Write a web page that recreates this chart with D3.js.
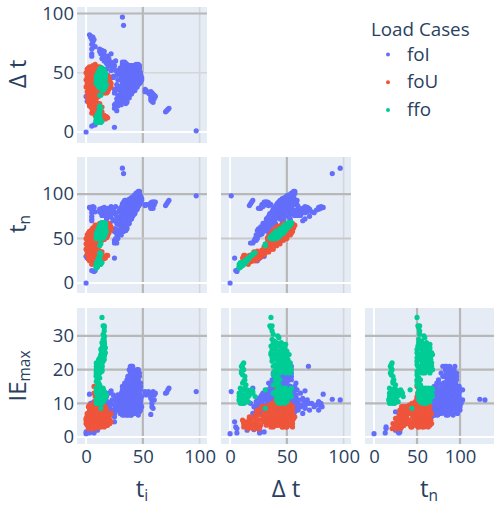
<!DOCTYPE html>
<html><head><meta charset="utf-8">
<script src="https://cdn.jsdelivr.net/npm/d3@7"></script>
<style>
html,body{margin:0;padding:0;background:#fff}
text{font-family:"Open Sans",sans-serif;fill:#2a3f5f}
</style></head><body>
<svg id="c" width="494" height="506"></svg>
<script>
// columns of each row: t_i, delta t, t_n, IE_max
const seriesNames = ["foI","foU","ffo"];
const seriesColors = ["#636EFA","#EF553B","#00CC96"];
const xTicks = [[0,50,100],[0,50,100],[0,50,100]];
const yTicks = [[0,50,100],[0,50,100],[0,10,20,30]];
const foI = [
[97,1,98,13.5],[0,0,0,1],[32,97,129,11],[33,90,123,11.2],
[3,82,85,12.7],[4,81,85,9],[5,78,83,8],[5,74,79,9],[5,70,75,10],[5,66,72,8.5],[5,64,70,7],[6,80,86,9],
[12,70,83,8],[14,69,84,21],[15,66,81,9],[14,62,76,9],[16,68,85,10],[17,64,82,11],[19,64,84,9.5],[16,60,76,8],[20,60,82,10],[22,66,86,13.7],[22,59,82,10],[26,60,86,11],[18,53,72,7],[22,52,74,8],[25,56,80,9.5],[26,52,78,9.5],[21,46,67,7],[19,48,67,6],[18,45,63,6],[24,47,71,8],[27,48,75,11],[28,44,72,10.5],[29,52,81,11],[27,40,67,9],[28,38,66,8],[25,36,61,7],[25,33,58,6],[24,46,70,7.5],
[18,58,76,12],[20,62,82,13],[15,64,79,11.5],[12,68,80,11],[8,72,80,10],[6,76,82,9.5],[7,78,85,10.5],[4,80,84,10],[24,58,82,12.5],[17,61,78,9],[21,56,77,9],[23,55,78,11],[19,57,76,10.5],[13,66,79,10],
[0,30,30,1.5],[1,26,28,1.5],[3,26,29,1.2],[7,6,13,1.2],[8,6,14,2.5],[25,4,28,4.5],[6,19,25,3],[8,21,29,2.2],[10,15,25,2],[5,5,14,3],[6,24,25,7.5],
[25,23,48,8],[25,20,45,7],[26,21,47,9],[28,22,50,9],[28,26,54,8],[30,25,55,8.5],[33,28,61,8],[35,24,59,9],[36,25,61,9.5],[29,29,58,9.5],[30,35,65,9],[28,31,59,8],[33,25,58,8],[36,27,63,10],[26,35,61,8.5],
[34,30,64,13],[32,29,61,12],[30,30,60,11.5],[31,32,63,12.5],[33,33,66,11],[29,27,56,10.5],[27,28,55,10],[35,31,66,9],[37,30,67,11],[38,29,67,8],
[26,24,50,11.5],[28,28,56,12.5],[30,27,57,12],[31,23,54,10.5],[27,18,45,10],
[52,36,88,13],[53,35,88,12.5],[55,33,88,13.5],[56,32,88,13],[52,34,87,13.5],[57,34,90,12],[58,33,91,11],[59,32,91,13.5],[60,31,91,12.5],[60,28,88,11],[59,29,88,13],[58,27,85,10],[58,26,84,9],[57,27,84,6.7],[59,25,84,8.5],[61,30,91,13],[57,29,86,11.5],[70,17,87,13],[71,18,89,13.2],[73,20,93,14.5],[72,19,91,14],
[30,36,66,7],[30,44,74,9],[30,50,80,12],[30,54,84,10],[31,39,70,10],[31,47,78,13],[31,54,85,8],[32,34,66,7],[32,41,73,11],[32,46,78,14],[32,52,84,6.5],[32,59,88,9],[33,37,70,8],[33,42,75,12],[33,49,82,15],[33,53,86,9],
[34,34,68,6.5],[34,38,72,10],[34,43,77,14],[34,47,81,16],[34,52,86,12],[34,56,90,7],[35,36,71,13],[35,40,75,8],[35,45,80,11],[35,50,85,15],[35,53,88,10],[36,35,71,6.5],[36,39,75,16],[36,43,79,9],[36,47,83,13],[36,51,87,17],
[37,34,71,12],[37,38,75,7],[37,42,79,15],[37,46,83,18],[37,50,87,11],[38,32,70,9],[38,37,75,17],[38,41,79,12],[38,45,83,20],[38,48,86,7],[38,51,89,15],[39,33,72,14],[39,37,76,8],[39,41,80,18],[39,45,84,10],[39,49,88,21],[39,52,91,13],
[40,32,72,7],[40,35,75,11],[40,38,78,19],[40,42,82,15],[40,46,86,6.5],[40,49,89,18],[40,52,92,12],[41,34,75,16],[41,38,79,9],[41,42,83,21],[41,46,87,12],[41,50,91,16],[41,53,94,8],[42,35,77,13],[42,39,81,18],[42,43,85,8],[42,47,89,20],[42,51,93,14],
[43,35,78,7],[43,39,82,11],[43,43,86,17],[43,47,90,14],[43,51,94,9],[43,54,97,12],[44,38,82,15],[44,42,86,9],[44,46,90,18],[44,50,94,13],[44,53,97,7],[45,38,83,8],[45,42,87,19],[45,46,91,11],[45,50,95,16],[45,53,98,10],[45,56,101,14],
[46,40,86,13],[46,44,90,20],[46,48,94,9],[46,52,98,13],[46,57,103,11],[46,54,100,8],[47,41,88,16],[47,45,92,11],[47,49,96,7.5],[47,52,99,12],[47,56,103,14],[48,42,90,14],[48,46,94,10],
[32,36,68,9],[32,44,76,13],[32,49,81,10],[33,35,68,12],[33,45,78,8],[33,51,84,13],[34,36,70,15],[34,41,75,7.5],[34,45,79,11],[34,50,84,8.5],[35,34,69,10],[35,38,73,16],[35,43,78,14],[35,48,83,7],[36,37,73,12],[36,41,77,8],[36,45,81,16],[36,49,85,10],[36,53,89,14],
[37,36,73,15],[37,40,77,10],[37,44,81,12.5],[37,48,85,16],[37,52,89,8],[38,35,73,11],[38,39,77,7.5],[38,43,81,15],[38,47,85,17],[38,50,88,11],[39,35,74,6.5],[39,39,78,13],[39,43,82,16],[39,47,86,19],[39,51,90,9],
[40,34,74,14],[40,37,77,9],[40,40,80,21],[40,44,84,12],[40,48,88,20],[40,51,91,7.5],[41,36,77,12],[41,40,81,18],[41,44,85,7],[41,48,89,19],[41,51,92,10],[42,37,79,10],[42,41,83,16],[42,45,87,12],[42,49,91,17],[42,53,95,9],
[43,37,80,14],[43,41,84,19],[43,45,88,10],[43,49,92,18],[43,53,96,15],[44,40,84,12],[44,44,88,16],[44,48,92,8],[44,52,96,17],[44,55,99,11],[45,40,85,14],[45,44,89,7.5],[45,48,93,20],[45,52,97,13],[45,55,100,9],
[46,42,88,17],[46,46,92,14],[46,50,96,18],[46,53,99,15],[47,43,90,18],[47,47,94,15],[47,51,98,9],[47,54,101,10],[46,46,92,6.5],
[38,33,71,13],[36,33,69,8],[34,32,66,9],[37,32,69,6.5],[40,33,73,10],
[32,55,87,12],[32,57,89,15],[33,58,91,8],[33,55,88,11],[34,59,93,14],[35,56,91,9],[35,58,93,16],[36,55,91,12],[36,57,93,7.5],[37,54,91,18],[37,56,93,10],[38,54,92,13],[38,56,94,8.5],[39,54,93,17],[39,56,95,11],[40,54,94,21],[40,56,96,14],[41,55,96,9],[42,54,96,19],[42,56,98,11],[43,56,99,13],[44,57,101,10],[48,50,98,15],[49,46,95,12],[49,44,93,9],[48,44,92,16],[48,48,96,8],
[47,44,91,13],[47,47,94,19],[48,43,91,11],[46,41,87,8],[45,43,88,12],[44,39,83,11],[45,41,86,17],[43,38,81,9],[42,37,79,15],[41,36,77,7.5],[39,34,73,11],[34,35,69,12],[33,39,72,14],[33,40,73,7]
];
const foU = [
[0,38,38,5.5],[0,44,44,4],[0,50,50,5],[1,34,35,6.5],[1,41,42,3.5],[1,47,48,6],[1,53,54,4.5],[1,30,32,7],[2,36,38,4],[2,43,45,7],[2,49,51,3],[2,54,56,6],[2,27,29,5],
[3,32,35,3.5],[3,38,41,8],[3,45,48,5],[3,51,54,7.5],[3,24,27,3],[3,55,58,3],[4,29,33,6],[4,35,39,5],[4,41,45,9],[4,47,51,3.5],[4,53,57,8],[4,22,26,4],[5,26,31,2.5],[5,33,38,8],[5,38,43,3],[5,44,49,7],[5,50,55,9],[5,55,60,4],[5,20,25,3],
[6,28,34,9],[6,34,40,4],[6,40,46,6.5],[6,46,52,3],[6,52,58,8.5],[6,56,62,5.5],[6,18,24,3.5],[7,30,37,6],[7,41,50,15],[7,37,44,10],[7,44,51,13],[7,48,55,4.5],[7,54,61,7],[7,23,30,5],[8,26,34,8],[8,42,50,12],[8,36,44,3],[8,40,48,10.5],[8,47,55,9.5],[8,52,60,3.5],[8,57,65,6],[8,20,28,2.5],[8,14,22,4],
[9,33,42,7],[9,38,47,4],[9,44,53,8],[9,50,59,10],[9,55,64,5],[9,25,34,5],[9,17,26,4],[10,40,50,11],[10,36,46,6],[10,46,56,3],[10,52,62,7.5],[10,24,34,3.5],[10,15,25,3],[11,34,45,9.5],[11,41,52,5],[11,48,59,9],[11,54,65,3.5],[11,18,29,5],[12,36,48,3.5],[12,43,55,7],[12,49,61,4.5],[12,52,64,10],[12,20,32,3],
[13,34,47,8],[13,40,53,4],[13,46,59,8.5],[13,50,63,3],[14,37,51,6],[14,43,57,9],[14,48,62,5],[14,21,35,4],[15,36,51,7],[15,41,56,3.5],[15,46,61,8],[15,12,27,4.5],[16,33,49,5],[16,38,54,9],[16,44,60,4],[16,47,63,6.5],[16,12,28,3],
[17,35,52,4],[17,40,57,7],[17,45,62,5],[17,11,28,5],[18,33,51,6],[18,38,56,3.5],[18,43,61,7],[18,13,31,3.5],[19,34,53,4.5],[19,40,59,5.5],[19,45,64,3.5],[19,12,31,4],[20,36,56,4],[20,42,62,6],[20,47,67,4],[21,38,59,5],[21,43,64,4],[22,41,63,4.5],[22,38,60,7],
[2,30,32,9],[3,35,38,6],[3,42,45,9.5],[4,32,36,8],[4,38,42,7],[4,44,48,5.5],[5,30,35,4.5],[5,36,41,9.5],[5,42,47,5],[5,47,52,6],[5,53,58,9.5],[6,24,30,8],[6,31,37,7],[6,37,43,8],[6,43,49,9.5],[6,49,55,5.5],[6,55,61,8],[7,27,34,3.5],[7,34,41,4.5],[7,39,46,8],[7,46,53,7],[7,51,58,9],[8,23,31,7],[8,30,38,9],[8,38,46,6],[8,45,53,4],[8,50,58,6.5],[8,55,63,9],[9,28,37,9],[9,36,45,8.5],[9,41,50,5.5],[9,47,56,6],[9,52,61,4],[9,54,63,8],[10,31,41,5],[10,34,44,8],[10,43,53,7],[10,49,59,5],[10,55,65,9],[11,30,41,7],[11,38,49,8],[11,44,55,7.5],[11,51,62,6],[12,33,45,6],[12,40,52,9.5],[12,46,58,8],[12,55,67,7],[13,37,50,6],[13,43,56,6.5],[13,48,61,6],[13,53,66,5],[14,34,48,9],[14,40,54,4.5],[14,46,60,7],[14,50,64,8],[15,38,53,9.5],[15,43,58,5.5],[15,49,64,4],[16,35,51,7],[16,41,57,6],[16,46,62,8],[17,37,54,9],[17,43,60,3.5],[18,36,54,8],[18,41,59,5.5],[18,45,63,5],[19,37,56,7],[19,43,62,6],[20,39,59,5.5],[20,44,64,5],[21,41,62,6.5],[3,22,25,2.5],[7,20,27,3.5],[10,21,31,6],[12,24,36,5],[6,22,28,5.5],[4,25,29,6.5],[2,25,27,2.5],[8,17,25,5.5],[5,16,21,2.5],[14,17,31,6],[16,14,30,4.5]
];
const ffo = [
[14,36,50,35.5],[15,35,51,33],[16,36,52,32.5],[16,37,53,33],[16,37,53,31.5],[16,42,58,30],[15,38,53,30.5],[16,43,59,29.5],[15,37,52,29],[16,39,55,28.5],[15,41,56,28],[16,47,63,27.5],[15,44,59,27],[16,49,65,27.5],
[13,37,50,26],[14,39,53,26.5],[15,42,57,25.5],[16,45,61,26],[16,48,64,25.5],[17,48,65,26.5],[15,50,65,25.5],[14,36,50,25],[16,40,56,24.5],[14,43,57,24],[15,46,61,24.5],[16,50,66,24],[15,36,51,24.5],
[12,38,50,23.5],[13,41,54,23],[14,45,59,23],[15,48,63,23.5],[15,51,66,23],[13,37,50,22.5],[13,43,56,22],[14,47,61,22.5],[14,50,64,22],[14,53,67,22],
[10,40,50,21.5],[12,38,51,21],[11,42,53,21],[12,45,57,21],[13,48,61,21],[13,51,64,21.5],[14,53,67,21],
[9,44,53,20],[10,46,56,20],[11,48,59,20.5],[12,50,62,20],[13,52,65,20],[14,54,68,20],[9,47,56,19.5],[10,49,59,19],[11,51,62,19.5],[12,53,65,19],
[9,42,51,18],[10,40,50,17],[9,41,50,16.5],[11,41,52,16],[10,44,54,17],[10,42,52,15],[12,38,50,15.5],
[9,43,52,14],[10,46,56,14.5],[11,49,60,14.5],[12,52,64,14],[13,54,67,14.5],[14,48,62,14],[15,44,59,14],[16,40,56,13.5],
[10,41,51,13],[11,44,55,13],[12,47,59,13],[13,50,63,13],[14,53,67,13],[15,52,67,12.5],[16,47,63,13],[17,38,55,13],
[10,42,52,12],[11,46,57,12],[12,42,54,11.5],[13,45,58,11.5],[13,49,62,11.5],[14,51,65,11.5],[15,46,61,12],[16,42,58,12],[17,44,61,11.5],[18,40,58,12.5],
[11,43,54,10.5],[12,46,58,10.5],[13,48,61,10],[14,44,58,10],[14,49,63,10.5],[13,42,55,10.2],[15,50,65,10.5],
[13,31,44,8.5],[12,31,42,14],
[15,36,51,27],[15,39,54,27],[16,41,57,27],[16,45,61,28],[14,38,52,28],[15,40,55,26],[16,43,59,25],[15,47,62,26],[17,50,67,25],[14,37,51,23.5],[14,40,54,24.5],[14,42,56,25],[15,44,59,25.5],[15,46,61,22.5],[16,48,64,23],[16,52,68,24.5],[13,39,52,24.5],[13,42,55,20.5],[13,45,58,22.5],[13,47,60,24],[14,49,63,25],[12,41,53,19.5],[12,44,56,19],[13,46,59,20],[13,49,62,19.5],[12,48,60,22],[11,45,56,23],[14,51,65,19.5],[11,39,50,19.5],[12,40,52,17.5],[11,43,54,15.5],[11,38,50,18.5],
[11,41,52,11],[12,44,56,13.5],[12,49,61,12.5],[13,52,65,12],[14,46,60,12.5],[15,42,57,13],[16,45,61,11],[16,50,66,13.5],[13,44,57,14.5],[11,47,58,13.5],[10,44,54,11.5],[15,48,63,14.5],[14,54,68,12],[17,47,64,12],[15,53,68,14],
[9,12,21,22],[10,11,20,21.5],[9,10,19,21],[10,12,21,20],[9,10,19,19],[10,11,20,20.5],[9,13,22,18],[10,12,22,16.5],[11,14,25,15.5],[10,13,23,17],[9,9,18,14.5],[10,12,22,14],[11,15,26,14],[12,19,31,14],[11,17,28,13],[12,20,32,13.5],[12,22,34,12],[9,8,18,13],[10,10,20,12],[10,13,23,12.5],[11,16,27,12],[9,8,17,11],[10,9,19,10.5],[10,11,21,10],[11,14,25,11],[12,16,28,10.5],[13,8,21,11],[14,9,23,12.5],
[9,11,20,18.5],[10,10,20,19.5],[11,13,24,14.5],[10,15,25,13],[12,17,29,12.5],[11,12,23,11.5],[10,8,18,12],[9,9,18,10],[10,13,23,10.2],[11,11,22,16],[13,20,33,13],[12,14,26,12],[11,10,21,13.5],[12,12,24,10]
];
const allSeries = [foI,foU,ffo];

const svg = d3.select("#c");
const F = 18.5;
const colBox = [[77,207],[221,351],[365,494]];
const rowBox = [[7,143],[157,293],[308,444]];
const xDomains = [[-8,106.5],[-8,106.5],[-10.5,139.5]];
const yDomains = [[-9.3,105.5],[-11.2,141.6],[-2.08,38.3]];
const xScales = colBox.map((b,i)=>d3.scaleLinear().domain(xDomains[i]).range(b));
const yScales = rowBox.map((b,i)=>d3.scaleLinear().domain(yDomains[i]).range([b[1],b[0]]));
// grid line appearance: per column / row, by tick
const WHITE={c:"#fff",w:2}, GREY={c:"#b8b8b8",w:2.2}, PALE={c:"#d4d6da",w:1.6}, MID={c:"#c8c9cc",w:2};
const xGrid=[[WHITE,GREY,PALE],[WHITE,GREY,PALE],[WHITE,GREY,GREY]];
const yGrid=[[WHITE,PALE,GREY],[WHITE,MID,GREY],[WHITE,GREY,GREY,GREY]];

const defs = svg.append("defs");
for(let r=0;r<3;r++) for(let c=0;c<=r;c++){
  const id=`clip${r}${c}`;
  defs.append("clipPath").attr("id",id).append("rect")
    .attr("x",colBox[c][0]).attr("y",rowBox[r][0])
    .attr("width",colBox[c][1]-colBox[c][0]).attr("height",rowBox[r][1]-rowBox[r][0]);
  const g=svg.append("g");
  g.append("rect").attr("x",colBox[c][0]).attr("y",rowBox[r][0])
    .attr("width",colBox[c][1]-colBox[c][0]).attr("height",rowBox[r][1]-rowBox[r][0]).attr("fill","#E5ECF6");
  const x=xScales[c], y=yScales[r];
  xTicks[c].forEach((t,i)=>g.append("line").attr("x1",x(t)).attr("x2",x(t))
    .attr("y1",rowBox[r][0]).attr("y2",rowBox[r][1]).attr("stroke",xGrid[c][i].c).attr("stroke-width",xGrid[c][i].w));
  yTicks[r].forEach((t,i)=>g.append("line").attr("x1",colBox[c][0]).attr("x2",colBox[c][1])
    .attr("y1",y(t)).attr("y2",y(t)).attr("stroke",yGrid[r][i].c).attr("stroke-width",yGrid[r][i].w));
  const m=g.append("g").attr("clip-path",`url(#${id})`);
  // rows hold ti,dt,tn,ie: x uses column c, y uses column r+1
  allSeries.forEach((s,k)=>{
    m.append("g").selectAll("circle").data(s).join("circle")
      .attr("cx",d=>x(d[c])).attr("cy",d=>y(d[r+1])).attr("r",2.6)
      .attr("fill",seriesColors[k]);
  });
}
// axes (labels only)
xScales.forEach((x,c)=>{
  const a=svg.append("g").attr("transform","translate(0,444)")
    .call(d3.axisBottom(x).tickValues(xTicks[c]).tickSize(0).tickPadding(6));
  a.select(".domain").remove();
  a.selectAll("text").attr("font-size",F).style("font-family",'"Open Sans",sans-serif').style("fill","#2a3f5f");
});
yScales.forEach((y,r)=>{
  const a=svg.append("g").attr("transform","translate(77,0)")
    .call(d3.axisLeft(y).tickValues(yTicks[r]).tickSize(0).tickPadding(3));
  a.select(".domain").remove();
  a.selectAll("text").attr("font-size",F).style("font-family",'"Open Sans",sans-serif').style("fill","#2a3f5f");
});
// axis titles
function title(parent,base,sub){
  const t=parent.append("text").attr("text-anchor","middle").attr("font-size",24).text(base);
  if(sub) t.append("tspan").attr("font-size",15.5).attr("dy",4).text(sub);
  return t;
}
title(svg,"t","i").attr("x",142).attr("y",497);
title(svg,"\u0394 t").attr("x",286).attr("y",497);
title(svg,"t","n").attr("x",429).attr("y",497);
title(svg,"\u0394 t").attr("transform","translate(26,74) rotate(-90)");
title(svg,"t","n").attr("transform","translate(26,224) rotate(-90)");
title(svg,"IE","max").attr("transform","translate(26,376) rotate(-90)");
// legend
svg.append("text").attr("x",371).attr("y",36).attr("font-size",18.8).text("Load Cases");
seriesNames.forEach((n,i)=>{
  const yy=54.5+i*27.8;
  svg.append("circle").attr("cx",388).attr("cy",yy).attr("r",2).attr("fill",seriesColors[i]);
  svg.append("text").attr("x",407).attr("y",yy+6).attr("font-size",18.8).text(n);
});
</script>
</body></html>
